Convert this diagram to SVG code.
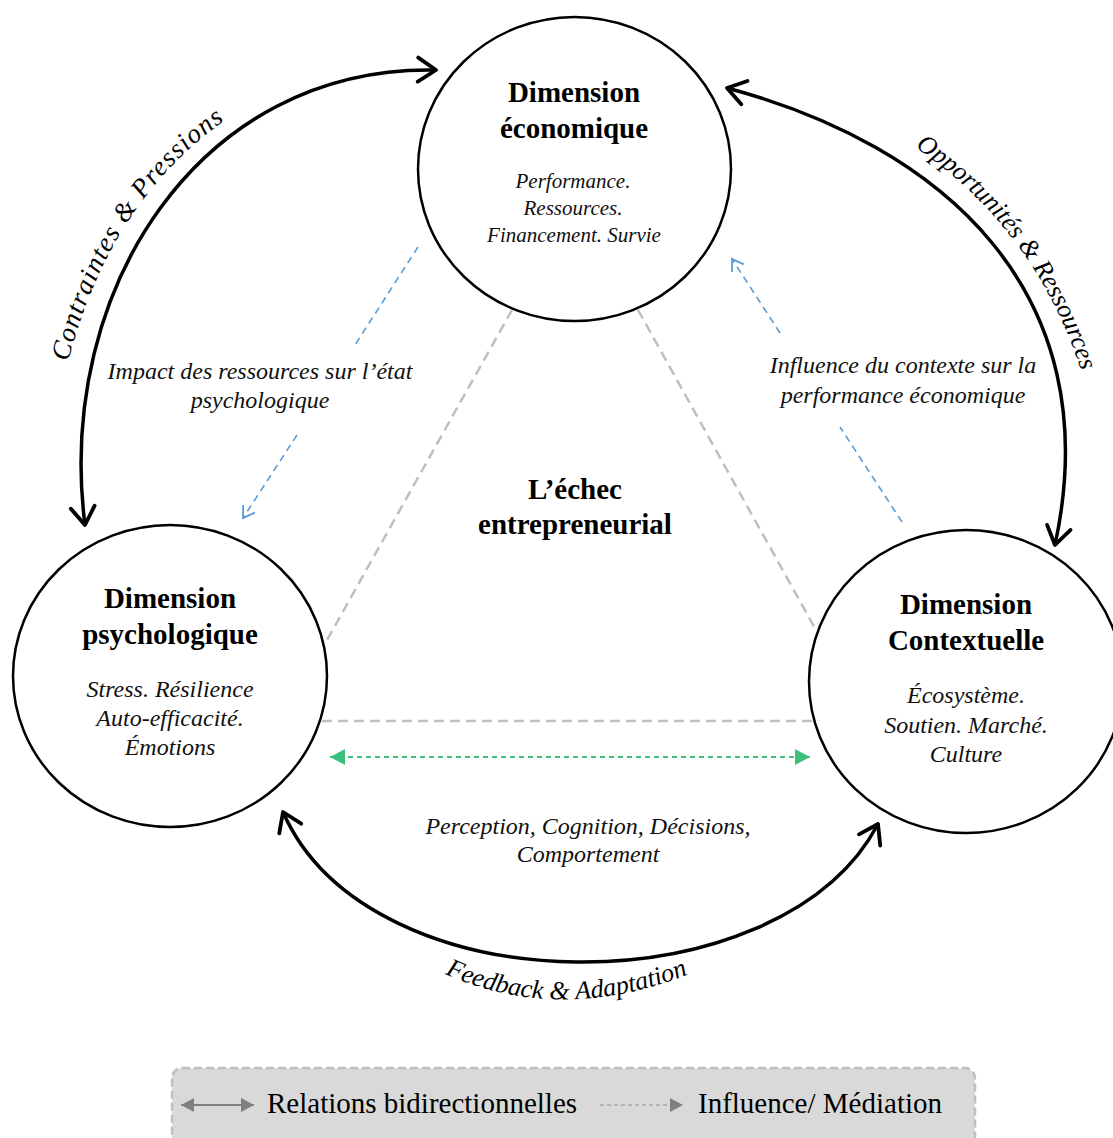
<svg xmlns="http://www.w3.org/2000/svg" width="1113" height="1138" viewBox="0 0 1113 1138">
<style>
.node{fill:#fff;stroke:#000;stroke-width:2.5}
.title{font-family:"Liberation Serif","Times New Roman",serif;font-weight:bold;font-size:29px;fill:#000;text-anchor:middle}
.sub{font-family:"Liberation Serif","Times New Roman",serif;font-style:italic;font-size:24px;fill:#111;text-anchor:middle}
.subS{font-family:"Liberation Serif","Times New Roman",serif;font-style:italic;font-size:21px;fill:#111;text-anchor:middle}
.lbl{font-family:"Liberation Serif","Times New Roman",serif;font-style:italic;font-size:24px;fill:#111;text-anchor:middle}
.arc{fill:none;stroke:#000;stroke-width:3.5}
.arcTxt{font-family:"Liberation Serif","Times New Roman",serif;font-style:italic;font-size:27px;fill:#000}
.arcTxtS{font-family:"Liberation Serif","Times New Roman",serif;font-style:italic;font-size:26px;fill:#000}
.tri{fill:none;stroke:#bfbfbf;stroke-width:2.5;stroke-dasharray:10 6}
.blue{fill:none;stroke:#5b9bd5;stroke-width:1.6;stroke-dasharray:7 5}
.green{fill:none;stroke:#3cc07a;stroke-width:2;stroke-dasharray:5 4}
.leg{font-family:"Liberation Serif","Times New Roman",serif;font-size:29px;fill:#000}
</style>
<defs>
<marker id="chev" viewBox="-21 -15 25 30" refX="0" refY="0" markerWidth="25" markerHeight="30" markerUnits="userSpaceOnUse" orient="auto-start-reverse">
<path d="M -18 -12 L 0 0 L -18 12" fill="none" stroke="#000" stroke-width="3.8" stroke-linecap="round" stroke-linejoin="round"/>
</marker>
<marker id="blueV" viewBox="-14 -10 16 20" refX="0" refY="0" markerWidth="16" markerHeight="20" markerUnits="userSpaceOnUse" orient="auto">
<path d="M -11 -7 L 0 0 L -11 7" fill="none" stroke="#5b9bd5" stroke-width="1.8"/>
</marker>
<marker id="greenTri" viewBox="-16 -9 17 18" refX="0" refY="0" markerWidth="17" markerHeight="18" markerUnits="userSpaceOnUse" orient="auto-start-reverse">
<path d="M -15 -8 L 0 0 L -15 8 Z" fill="#3cc07a"/>
</marker>
<marker id="grayTri" viewBox="-14 -8 15 16" refX="0" refY="0" markerWidth="15" markerHeight="16" markerUnits="userSpaceOnUse" orient="auto-start-reverse">
<path d="M -13 -7 L 0 0 L -13 7 Z" fill="#7f7f7f"/>
</marker>
<path id="tpTL" d="M 68 362 Q 113 188 244 108"/>
<path id="tpTR" d="M 915 147 Q 1046 236 1090 400"/>
<path id="tpB" d="M 445 974 Q 562 1026 694 972"/>
</defs>

<g id="connectors">
<line class="tri" x1="512" y1="310" x2="327" y2="640"/>
<line class="tri" x1="638" y1="310" x2="816" y2="630"/>
<line class="tri" x1="322" y1="721" x2="812" y2="721"/>
<line class="green" x1="330" y1="757" x2="810" y2="757" marker-start="url(#greenTri)" marker-end="url(#greenTri)"/>
<line class="blue" x1="418" y1="247" x2="355" y2="345"/>
<line class="blue" x1="297" y1="435" x2="243" y2="518" marker-end="url(#blueV)"/>
<line class="blue" x1="902" y1="522" x2="840" y2="427"/>
<line class="blue" x1="780" y1="333" x2="732" y2="259" marker-end="url(#blueV)"/>
<path class="arc" d="M 85 525 C 55 290, 200 65, 436 70" marker-start="url(#chev)" marker-end="url(#chev)"/>
<path class="arc" d="M 727 88 C 940 145, 1110 290, 1055 545" marker-start="url(#chev)" marker-end="url(#chev)"/>
<path class="arc" d="M 283 812 C 370 1010, 780 1010, 878 824" marker-start="url(#chev)" marker-end="url(#chev)"/>
<text class="arcTxt"><textPath href="#tpTL" textLength="294" lengthAdjust="spacing">Contraintes &amp; Pressions</textPath></text>
<text class="arcTxtS"><textPath href="#tpTR" textLength="284" lengthAdjust="spacing">Opportunités &amp; Ressources</textPath></text>
<text class="arcTxtS"><textPath href="#tpB" textLength="250" lengthAdjust="spacing">Feedback &amp; Adaptation</textPath></text>
<text class="lbl"><tspan x="260" y="379">Impact des ressources sur l’état</tspan><tspan x="260" y="408">psychologique</tspan></text>
<text class="lbl"><tspan x="903" y="373">Influence du contexte sur la</tspan><tspan x="903" y="403">performance économique</tspan></text>
<text class="lbl"><tspan x="588" y="834">Perception, Cognition, Décisions,</tspan><tspan x="588" y="862">Comportement</tspan></text>
</g>

<g id="node-economique">
<ellipse class="node" cx="574.5" cy="169" rx="156.5" ry="152"/>
<text class="title" x="574" y="102">Dimension</text>
<text class="title" x="574" y="138">économique</text>
<text class="subS" x="573" y="188">Performance.</text>
<text class="subS" x="573" y="215">Ressources.</text>
<text class="subS" x="574" y="242">Financement. Survie</text>
</g>

<g id="node-psychologique">
<ellipse class="node" cx="170" cy="676" rx="157" ry="151"/>
<text class="title" x="170" y="608">Dimension</text>
<text class="title" x="170" y="644">psychologique</text>
<text class="sub" x="170" y="697">Stress. Résilience</text>
<text class="sub" x="170" y="726">Auto-efficacité.</text>
<text class="sub" x="170" y="755">Émotions</text>
</g>

<g id="node-contextuelle">
<ellipse class="node" cx="966" cy="681.5" rx="157" ry="151.5"/>
<text class="title" x="966" y="614">Dimension</text>
<text class="title" x="966" y="650">Contextuelle</text>
<text class="sub" x="966" y="703">Écosystème.</text>
<text class="sub" x="966" y="733">Soutien. Marché.</text>
<text class="sub" x="966" y="762">Culture</text>
</g>

<g id="node-centre">
<text class="title" x="575" y="499">L’échec</text>
<text class="title" x="575" y="534">entrepreneurial</text>
</g>

<g id="legend">
<rect x="172" y="1068" width="803" height="100" rx="10" ry="10" fill="#d9d9d9" stroke="#bfbfbf" stroke-width="2.5" stroke-dasharray="8 4"/>
<line x1="181" y1="1105" x2="254" y2="1105" stroke="#7f7f7f" stroke-width="2" marker-start="url(#grayTri)" marker-end="url(#grayTri)"/>
<text class="leg" x="267" y="1113">Relations bidirectionnelles</text>
<line x1="600" y1="1105" x2="683" y2="1105" stroke="#a6a6a6" stroke-width="1.5" stroke-dasharray="4 3" marker-end="url(#grayTri)"/>
<text class="leg" x="698" y="1113">Influence/ Médiation</text>
</g>
</svg>
